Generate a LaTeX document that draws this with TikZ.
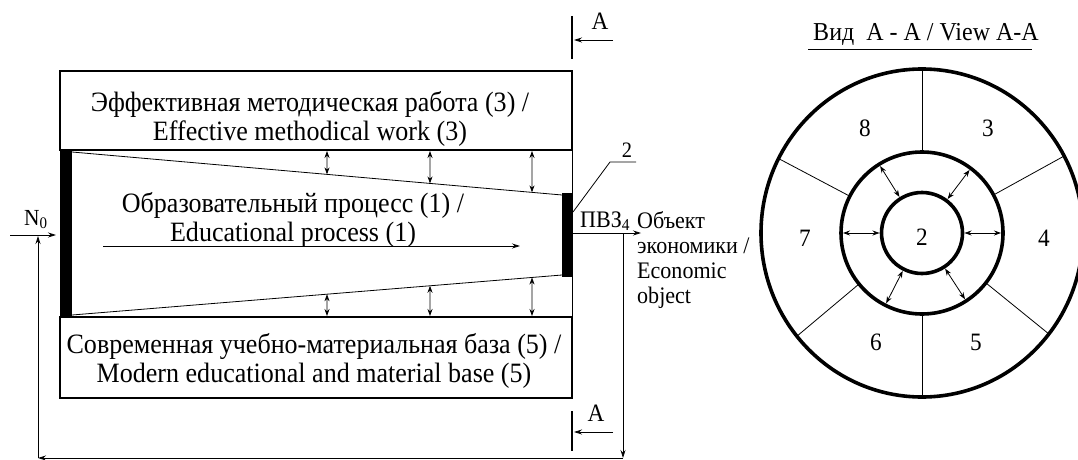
\documentclass[tikz,border=0pt]{standalone}
\usepackage{fontspec}
\setmainfont{Liberation Serif}[FakeStretch=0.93]
\usetikzlibrary{arrows.meta,calc}

\begin{document}
\begin{tikzpicture}
    [x=1pt,y=-1pt,
    wall/.style={draw,line width=1.6pt},
    fine/.style={line width=0.8pt},
    ring/.style={draw,line width=3.6pt},
    cut/.style={line width=2.4pt},
    tip/.style={fine,-{Stealth[length=8pt,width=5pt]}},
    twotip/.style={fine,{Stealth[length=7pt,width=5pt]}-{Stealth[length=7pt,width=5pt]}},
    big/.style={font=\fontsize{28}{29.5}\selectfont,align=center,inner sep=0pt},
    small/.style={font=\fontsize{23.7}{25}\selectfont,inner sep=0pt},
    num/.style={font=\fontsize{25}{28}\selectfont,inner sep=0pt}]
    \useasboundingbox (0,0) rectangle (1078,460);

    % longitudinal section
    \draw[wall] (60,71) rectangle (572,150);
    \draw[wall] (60,317) rectangle (572,398);
    \draw[fine] (572,150) -- (572,317);
    \fill (60,150) rectangle (72,317);
    \fill (562,193) rectangle (573,277);
    \coordinate (tl) at (72,152);
    \coordinate (tr) at (562,195);
    \coordinate (bl) at (72,315);
    \coordinate (br) at (562,275);
    \draw[fine] (tl) -- (tr);
    \draw[fine] (bl) -- (br);
    \foreach \x in {327,430,532} {
        \draw[twotip] (\x,151) -- ($(tl)!{(\x-72)/490}!(tr)$);
        \draw[twotip] ($(bl)!{(\x-72)/490}!(br)$) -- (\x,316);
    }
    \node[big] (work) at (310,119) {Эффективная методическая работа (3) /\\Effective methodical work (3)};
    \node[big] (process) at (293,220) {Образовательный процесс (1) /\\Educational process (1)};
    \node[big] (base) at (314,361) {Современная учебно-материальная база (5) /\\Modern educational and material base (5)};
    \coordinate (p0) at (103,246);
    \coordinate (p1) at (520,246);
    \draw[tip] (p0) -- (p1);

    % input, output and the loop back
    \node[num,font=\fontsize{23}{25}\selectfont,anchor=base west] (n0) at (24,225) {N\textsubscript{0}};
    \coordinate (nin) at (10,235);
    \coordinate (nbar) at (56,235);
    \draw[tip] (nin) -- (nbar);
    \coordinate (out0) at (573,233);
    \coordinate (out1) at (641,233);
    \draw[tip] (out0) -- (out1);
    \node[small,anchor=base west] (pvz) at (580,227) {ПВЗ\textsubscript{4}};
    \node[small,anchor=north west,align=left] (object) at (637,211) {Объект\\экономики /\\Economic\\object};
    \coordinate (fb0) at (623,233);
    \coordinate (fb1) at (623,458);
    \coordinate (fb2) at (38,458);
    \coordinate (fb3) at (38,236);
    \draw[tip] (fb0) -- (fb1);
    \draw[tip] (fb1) -- (fb2);
    \draw[tip] (fb2) -- (fb3);
    \coordinate (l0) at (573,212);
    \coordinate (l1) at (610,162);
    \coordinate (l2) at (636,162);
    \draw[fine] (l0) -- (l1) -- (l2);
    \node[num,font=\fontsize{22}{25}\selectfont,anchor=base] (two) at (627,157) {2};

    % section marks
    \coordinate (a0) at (613,40);
    \coordinate (a1) at (574,40);
    \draw[cut] (572,16) -- (572,59);
    \draw[tip] (a0) -- (a1);
    \node[num,anchor=base] (secA) at (600,30) {A};
    \coordinate (b0) at (613,432);
    \coordinate (b1) at (574,432);
    \draw[cut] (572,411) -- (572,451);
    \draw[tip] (b0) -- (b1);
    \node[num,anchor=base] (secB) at (596,421) {A};

    % view A-A
    \coordinate (c) at (922,233);
    \node[num,font=\fontsize{25.8}{28}\selectfont,anchor=base] (view) at (926,41) {Вид~~A - A / View A-A};
    \draw[fine] (808,49) -- (1032,49);
    \foreach \a in {-90,-28,38,90,141,-153}
        \draw[fine] ($(c)+(\a:81)$) -- ($(c)+(\a:161 and 164)$);
    \draw[ring] (c) ellipse [x radius=161,y radius=164];
    \draw[ring] (c) circle [radius=81];
    \draw[ring] (c) circle [radius=40.5];
    \foreach \a in {0,180,-53,-122,57,117}
        \draw[twotip] ($(c)+(\a:42.5)$) -- ($(c)+(\a:79)$);
    \foreach \n/\px/\py in {8/865/128,3/988/128,7/805/238,4/1044/238,6/876/342,5/976/342}
        \node[num] (z\n) at (\px,\py) {\n};
    \node[num] (core) at (922,237) {2};
\end{tikzpicture}
\end{document}
